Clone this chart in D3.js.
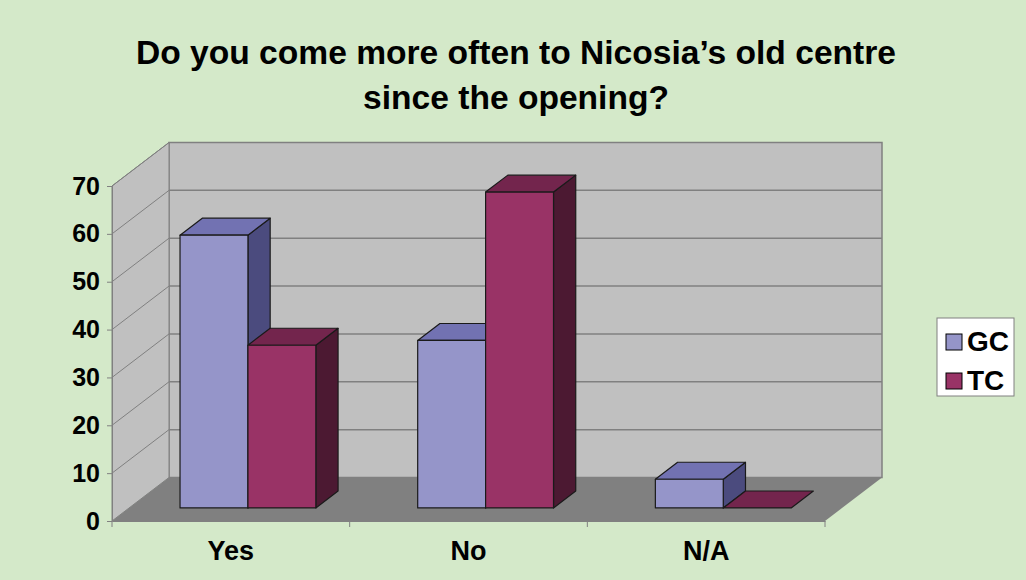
<!DOCTYPE html>
<html>
<head>
<meta charset="utf-8">
<script src="https://cdn.jsdelivr.net/npm/d3@7"></script>
<style>
  body { margin: 0; background: #d4e9c9; }
  svg { display: block; font-family: Arial, "Liberation Sans", sans-serif; font-weight: bold; }
</style>
</head>
<body>
<div id="chart"></div>
<script>
// chart data
const categories = ["Yes", "No", "N/A"];
const series = ["GC", "TC"];
const gcValues = [57, 35, 6];
const tcValues = [34, 66, 0];
const yTicks = [0, 10, 20, 30, 40, 50, 60, 70];
const titleLines = ["Do you come more often to Nicosia\u2019s old centre", "since the opening?"];

const width = 1026, height = 580;
// front plane of the 3d box, plus the depth offset of the back wall
const plotLeft = 112, plotRight = 825, plotBottom = 521, plotTop = 186;
const depthX = 57, depthY = 43.5;
const barZ0 = 0.3, barZ1 = 0.69;

const faces = {
  GC: { front: "#9595c9", top: "#7272b2", side: "#4b4b7e" },
  TC: { front: "#993366", top: "#73254d", side: "#4c1932" }
};

const x = d3.scaleBand().domain(categories).range([plotLeft, plotRight]);
const xs = d3.scaleBand().domain(series).range([0, x.bandwidth()]).paddingOuter(0.75);
const y = d3.scaleLinear().domain([0, 70]).range([plotBottom, plotTop]);

// project a point of the front plane back to depth z (0 front, 1 back)
const P = (px, v, z) => [px + z * depthX, y(v) - z * depthY];
const poly = pts => "M" + pts.map(p => p.join(",")).join("L") + "Z";

const svg = d3.select("#chart").append("svg")
  .attr("width", width)
  .attr("height", height);

svg.append("rect").attr("width", width).attr("height", height).attr("fill", "#d4e9c9");

// title
svg.append("text")
  .attr("text-anchor", "middle")
  .attr("font-size", 33.6)
  .selectAll("tspan")
  .data(titleLines)
  .enter()
  .append("tspan")
  .attr("x", 516)
  .attr("y", (d, i) => 64 + i * 45)
  .text(d => d);

// back wall
svg.append("path")
  .attr("d", poly([P(plotLeft, 70, 1), P(plotRight, 70, 1), P(plotRight, 0, 1), P(plotLeft, 0, 1)]))
  .attr("fill", "#c0c0c0")
  .attr("stroke", "#808080")
  .attr("stroke-width", 1.5);

// side wall
svg.append("path")
  .attr("d", poly([P(plotLeft, 0, 0), P(plotLeft, 70, 0), P(plotLeft, 70, 1), P(plotLeft, 0, 1)]))
  .attr("fill", "#c0c0c0")
  .attr("stroke", "#808080");

// floor
svg.append("path")
  .attr("d", poly([P(plotLeft, 0, 0), P(plotLeft, 0, 1), P(plotRight, 0, 1), P(plotRight, 0, 0)]))
  .attr("fill", "#808080");

// gridlines on back and side walls
const grid = svg.append("g").attr("stroke", "#808080").attr("stroke-width", 1.5).attr("fill", "none");
grid.selectAll("path.back")
  .data(yTicks.slice(1, -1))
  .enter()
  .append("path")
  .attr("class", "back")
  .attr("d", d => "M" + P(plotLeft, d, 1).join(",") + "L" + P(plotRight, d, 1).join(","));
grid.selectAll("path.side")
  .data(yTicks.slice(1))
  .enter()
  .append("path")
  .attr("class", "side")
  .attr("stroke-width", 1)
  .attr("d", d => "M" + P(plotLeft, d, 0).join(",") + "L" + P(plotLeft, d, 1).join(","));

// bars, drawn left to right so each front face covers the previous side face
const bars = [];
categories.forEach((c, i) => {
  bars.push({ cat: c, s: "GC", v: gcValues[i] });
  bars.push({ cat: c, s: "TC", v: tcValues[i] });
});

const barG = svg.selectAll("g.bar")
  .data(bars)
  .enter()
  .append("g")
  .attr("class", "bar")
  .attr("stroke", "#1a1a1a")
  .attr("stroke-width", 1.2)
  .attr("stroke-linejoin", "round");

barG.each(function (d) {
  const g = d3.select(this);
  const x0 = x(d.cat) + xs(d.s), x1 = x0 + xs.bandwidth();
  if (d.v > 0) {
    g.append("path")
      .attr("fill", faces[d.s].side)
      .attr("d", poly([P(x1, 0, barZ0), P(x1, 0, barZ1), P(x1, d.v, barZ1), P(x1, d.v, barZ0)]));
  }
  g.append("path")
    .attr("fill", faces[d.s].top)
    .attr("d", poly([P(x0, d.v, barZ0), P(x0, d.v, barZ1), P(x1, d.v, barZ1), P(x1, d.v, barZ0)]));
  if (d.v > 0) {
    g.append("path")
      .attr("fill", faces[d.s].front)
      .attr("d", poly([P(x0, 0, barZ0), P(x0, d.v, barZ0), P(x1, d.v, barZ0), P(x1, 0, barZ0)]));
  }
});

// y axis
const yAxis = svg.append("g")
  .attr("transform", "translate(" + plotLeft + ",0)")
  .call(d3.axisLeft(y).tickValues(yTicks).tickSize(5).tickPadding(7).tickFormat(d3.format("d")));
yAxis.select(".domain").attr("stroke", "#808080");
yAxis.selectAll(".tick line").attr("stroke", "#808080");
yAxis.selectAll("text")
  .attr("font-size", 25)
  .attr("font-weight", "bold")
  .attr("font-family", "Arial, 'Liberation Sans', sans-serif")
  .attr("fill", "#000");

// x axis
const xAxis = svg.append("g")
  .attr("transform", "translate(0," + plotBottom + ")")
  .call(d3.axisBottom(x).tickSize(0).tickPadding(20));
xAxis.select(".domain").attr("stroke", "#808080");
xAxis.selectAll("text")
  .attr("font-size", 27)
  .attr("font-weight", "bold")
  .attr("font-family", "Arial, 'Liberation Sans', sans-serif")
  .attr("fill", "#000");
xAxis.selectAll("line.sep")
  .data([plotLeft, x("No"), x("N/A"), plotRight])
  .enter()
  .append("line")
  .attr("class", "sep")
  .attr("x1", d => d).attr("x2", d => d)
  .attr("y1", 0).attr("y2", 6)
  .attr("stroke", "#808080");

// legend
const legend = svg.append("g").attr("transform", "translate(937,318)");
legend.append("rect")
  .attr("width", 77).attr("height", 78)
  .attr("fill", "#fff")
  .attr("stroke", "#808080");
const item = legend.selectAll("g.item")
  .data(series)
  .enter()
  .append("g")
  .attr("class", "item")
  .attr("transform", (d, i) => "translate(9," + (16 + i * 39) + ")");
item.append("rect")
  .attr("width", 16).attr("height", 16)
  .attr("fill", d => faces[d].front)
  .attr("stroke", "#000");
item.append("text")
  .attr("x", 21).attr("y", 17)
  .attr("font-size", 28)
  .text(d => d);
</script>
</body>
</html>
